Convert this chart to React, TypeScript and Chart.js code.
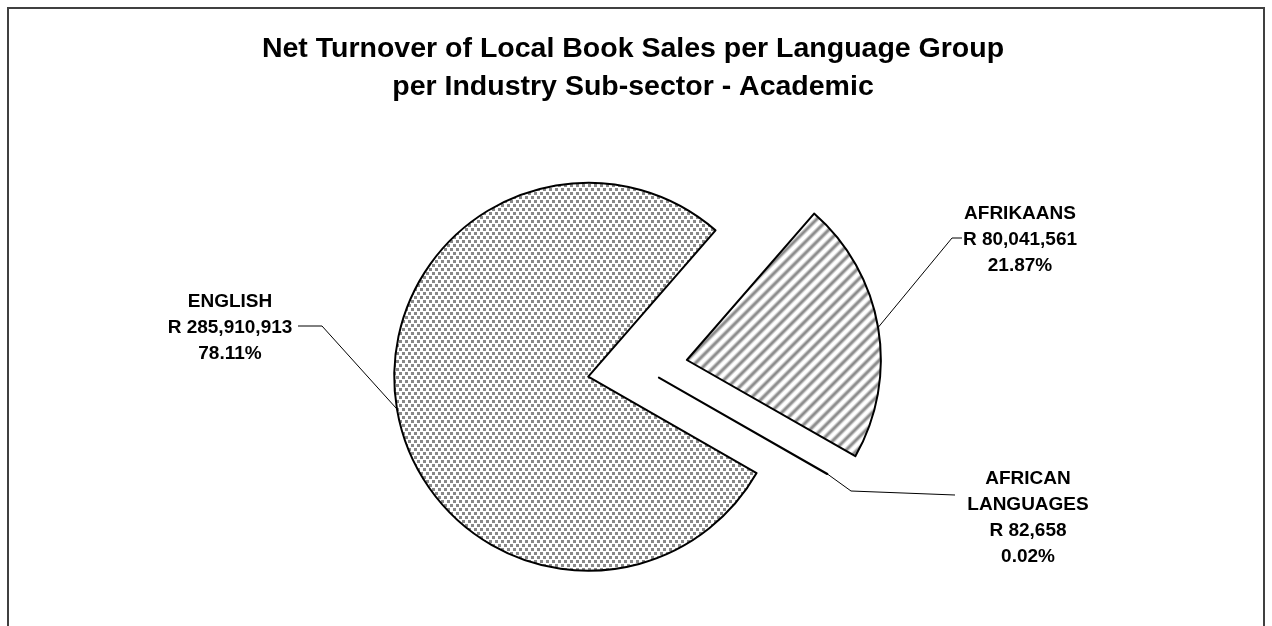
import React, { useEffect, useRef } from 'react';
import { Chart, registerables } from 'chart.js';

Chart.register(...registerables);

// ---------- data ----------
const TITLE_LINES = [
  'Net Turnover of Local Book Sales per Language Group',
  'per Industry Sub-sector - Academic',
];
const CATEGORIES = ['ENGLISH', 'AFRIKAANS', 'AFRICAN LANGUAGES'];
const TURNOVER = [285910913, 80041561, 82658];
const CURRENCY = 'R';

// ---------- layout / style ----------
const FONT = '"Liberation Sans", Arial, sans-serif';
const TITLE_SIZE = 28.5;
const TITLE_X = 633;
const TITLE_Y = 57;
const TITLE_LH = 38;
const LABEL_SIZE = 19;
const LABEL_LH = 26;
const LABEL_WRAP = 140;
const ROTATION = 119.8;
const RADIUS = 194;
const EXPLODE = [54, 46, 20];
const LABEL_POS = [
  { x: 230, y: 307 },
  { x: 1020, y: 219 },
  { x: 1028, y: 484 },
];
// elbow point, then end point near the label
const LEADERS = [
  [322, 326, 298, 326],
  [952, 238, 962, 238],
  [851, 491, 955, 495],
];

function dotPattern(ctx: CanvasRenderingContext2D) {
  const c = document.createElement('canvas');
  c.width = 6;
  c.height = 8;
  const g = c.getContext('2d')!;
  g.fillStyle = '#ffffff';
  g.fillRect(0, 0, 6, 8);
  g.fillStyle = '#888888';
  g.fillRect(0, 0, 3, 3);
  g.fillRect(3, 4, 3, 3);
  return ctx.createPattern(c, 'repeat')!;
}

function stripePattern(ctx: CanvasRenderingContext2D) {
  const c = document.createElement('canvas');
  c.width = 4;
  c.height = 8;
  const g = c.getContext('2d')!;
  const rows = ['#ffffff', '#ffffff', '#dcdcdc', '#a0a0a0', '#868686', '#a0a0a0', '#dcdcdc', '#ffffff'];
  rows.forEach((col, i) => {
    g.fillStyle = col;
    g.fillRect(0, i, 4, 1);
  });
  const p = ctx.createPattern(c, 'repeat')!;
  p.setTransform(new DOMMatrix().rotate(-45));
  return p;
}

function wrap(ctx: CanvasRenderingContext2D, text: string, max: number) {
  if (ctx.measureText(text).width <= max) return [text];
  const words = text.split(' ');
  const out: string[] = [];
  let cur = '';
  words.forEach((w) => {
    const t = cur ? cur + ' ' + w : w;
    if (cur && ctx.measureText(t).width > max) {
      out.push(cur);
      cur = w;
    } else cur = t;
  });
  if (cur) out.push(cur);
  return out;
}

const explodePlugin = {
  id: 'explodeSlices',
  afterDatasetUpdate(chart: any, args: any) {
    const meta = chart.getDatasetMeta(args.index);
    meta.data.forEach((arc: any, i: number) => {
      const d = EXPLODE[i] || 0;
      const mid = (arc.startAngle + arc.endAngle) / 2;
      arc.x += Math.cos(mid) * d;
      arc.y += Math.sin(mid) * d;
    });
  },
};

const framePlugin = {
  id: 'frame',
  beforeDraw(chart: any) {
    const ctx = chart.ctx;
    ctx.save();
    ctx.strokeStyle = '#404040';
    ctx.lineWidth = 2;
    ctx.strokeRect(8, 8, 1256, 720);
    ctx.restore();
  },
};

const labelsPlugin = {
  id: 'sliceLabels',
  afterDraw(chart: any) {
    const ctx: CanvasRenderingContext2D = chart.ctx;
    const meta = chart.getDatasetMeta(0);
    const total = TURNOVER.reduce((a, b) => a + b, 0);
    ctx.save();
    ctx.fillStyle = '#000000';
    ctx.textAlign = 'center';
    ctx.textBaseline = 'alphabetic';
    ctx.font = `bold ${TITLE_SIZE}px ${FONT}`;
    TITLE_LINES.forEach((t, i) => ctx.fillText(t, TITLE_X, TITLE_Y + i * TITLE_LH));

    ctx.font = `bold ${LABEL_SIZE}px ${FONT}`;
    meta.data.forEach((arc: any, i: number) => {
      const lines = [
        ...wrap(ctx, CATEGORIES[i], LABEL_WRAP),
        `${CURRENCY} ${TURNOVER[i].toLocaleString('en-US')}`,
        `${((TURNOVER[i] / total) * 100).toFixed(2)}%`,
      ];
      const pos = LABEL_POS[i];
      lines.forEach((l, j) => ctx.fillText(l, pos.x, pos.y + j * LABEL_LH));

      const mid = (arc.startAngle + arc.endAngle) / 2;
      const sx = arc.x + Math.cos(mid) * arc.outerRadius;
      const sy = arc.y + Math.sin(mid) * arc.outerRadius;
      const L = LEADERS[i];
      ctx.beginPath();
      ctx.moveTo(sx, sy);
      ctx.lineTo(L[0], L[1]);
      ctx.lineTo(L[2], L[3]);
      ctx.lineWidth = 1;
      ctx.strokeStyle = '#000000';
      ctx.stroke();
    });
    ctx.restore();
  },
};

export default function App() {
  const ref = useRef<HTMLCanvasElement>(null);
  useEffect(() => {
    const canvas = ref.current!;
    const ctx = canvas.getContext('2d')!;
    const chart = new Chart(canvas, {
      type: 'pie',
      data: {
        labels: CATEGORIES,
        datasets: [
          {
            data: TURNOVER,
            backgroundColor: [dotPattern(ctx), stripePattern(ctx), '#ffffff'] as any,
            borderColor: '#000000',
            borderWidth: 2,
            borderJoinStyle: 'round',
          } as any,
        ],
      },
      options: {
        animation: false,
        responsive: true,
        maintainAspectRatio: false,
        events: [],
        rotation: ROTATION,
        radius: RADIUS,
        layout: { padding: { left: 11, right: 0, top: 109.4, bottom: 0 } },
        plugins: {
          legend: { display: false },
          title: { display: false },
          tooltip: { enabled: false },
        },
      } as any,
      plugins: [explodePlugin, framePlugin, labelsPlugin],
    });
    return () => chart.destroy();
  }, []);
  return (
    <div style={{ position: 'fixed', left: 0, top: 0, width: 1272, height: 626, background: '#ffffff' }}>
      <canvas ref={ref} />
    </div>
  );
}
